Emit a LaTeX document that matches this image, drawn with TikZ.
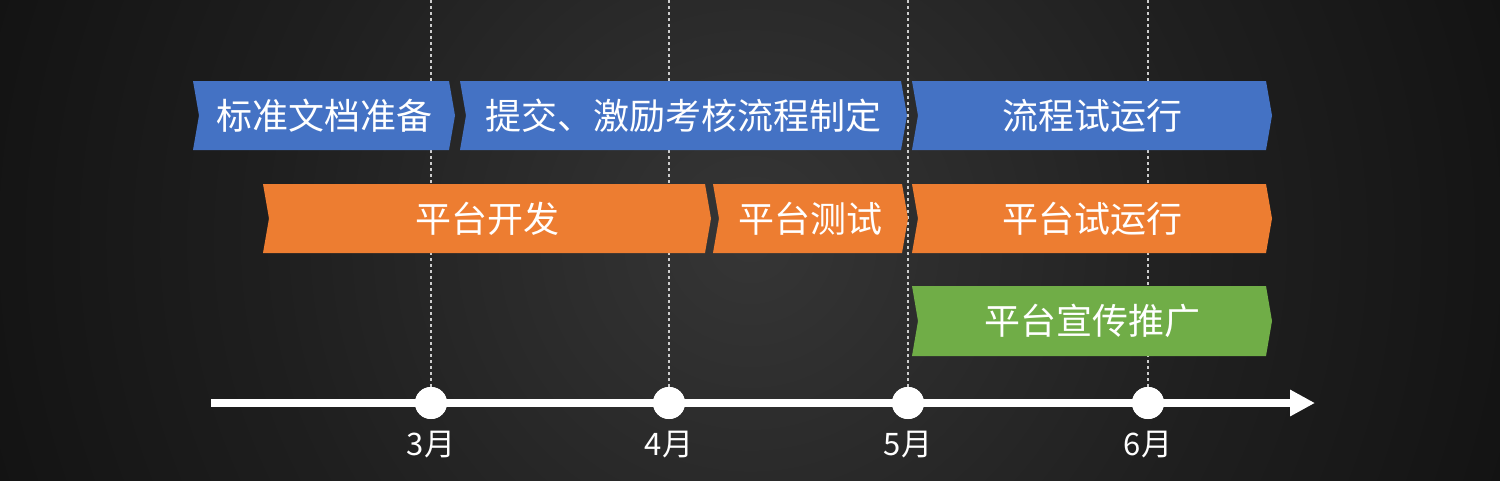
\documentclass[tikz,border=0pt]{standalone}
\usepackage{fontspec}
\setmainfont{Noto Sans CJK SC}
\usetikzlibrary{arrows.meta}
\definecolor{cblue}{HTML}{4472C4}
\definecolor{corange}{HTML}{ED7D31}
\definecolor{cgreen}{HTML}{70AD47}
\definecolor{bgA}{gray}{0.21}
\definecolor{bgB}{gray}{0.12}
\definecolor{bgC}{gray}{0.05}
\definecolor{bgD}{gray}{0.01}
\definecolor{dashgray}{gray}{0.8}
\pgfdeclareradialshading{bgshade}{\pgfpoint{0bp}{0bp}}{color(0bp)=(bgA); color(15bp)=(bgB); color(30bp)=(bgC); color(42bp)=(bgD); color(50bp)=(black)}
\newcommand\chevbox[7]{%
  \fill[#6] (#2,#4) -- (#3,#4) -- ({#3+6},{(#4+#5)/2}) -- (#3,#5) -- (#2,#5) -- ({#2+6},{(#4+#5)/2}) -- cycle;
  \node[barlabel] (#1) at ({(#2+#3)/2+3},{(#4+#5)/2}) {#7};}
\begin{document}
\begin{tikzpicture}[x=1pt,y=-1pt,
  barlabel/.style={text=white,font=\fontsize{36}{42}\selectfont,inner sep=0pt},
  monthlabel/.style={text=white,font=\fontsize{31}{36}\selectfont,inner sep=0pt},
  dot/.style={circle,fill=white,minimum size=32pt,inner sep=0pt},
  guide/.style={dashgray,line width=1.5pt,dash pattern=on 3pt off 3pt},
  axisline/.style={white,line width=8pt,-{Triangle[length=25pt,width=25pt]}}]
\useasboundingbox (0,0) rectangle (1500,480);
\begin{scope}
  \clip (0,0) rectangle (1500,480);
  \shade[shading=bgshade] (-50,-560) rectangle (1550,1040);
\end{scope}
% timeline dots
\node[dot] (m3) at (431,403) {};
\node[dot] (m4) at (669,403) {};
\node[dot] (m5) at (908,403) {};
\node[dot] (m6) at (1148,403) {};
\coordinate (t3) at (431,0);
\coordinate (t4) at (669,0);
\coordinate (t5) at (908,0);
\coordinate (t6) at (1148,0);
\draw[guide] (t3) -- (m3.north);
\draw[guide] (t4) -- (m4.north);
\draw[guide] (t5) -- (m5.north);
\draw[guide] (t6) -- (m6.north);
% bars
\chevbox{a}{193}{449}{81}{150}{cblue}{标准文档准备}
\chevbox{b}{460}{901}{81}{150}{cblue}{提交、激励考核流程制定}
\chevbox{c}{912}{1266}{81}{150}{cblue}{流程试运行}
\chevbox{d}{263}{705}{184}{253}{corange}{平台开发}
\chevbox{e}{713}{902}{184}{253}{corange}{平台测试}
\chevbox{f}{912}{1266}{184}{253}{corange}{平台试运行}
\chevbox{g}{912}{1266}{286}{356}{cgreen}{平台宣传推广}
% axis
\coordinate (axL) at (211,403);
\coordinate (axR) at (1315,403);
\draw[axisline] (axL) -- (axR);
\node[dot] at (m3) {};
\node[dot] at (m4) {};
\node[dot] at (m5) {};
\node[dot] at (m6) {};
\node[monthlabel] (l3) at (431,445) {3月};
\node[monthlabel] (l4) at (669,445) {4月};
\node[monthlabel] (l5) at (908,445) {5月};
\node[monthlabel] (l6) at (1148,445) {6月};
\end{tikzpicture}
\end{document}
